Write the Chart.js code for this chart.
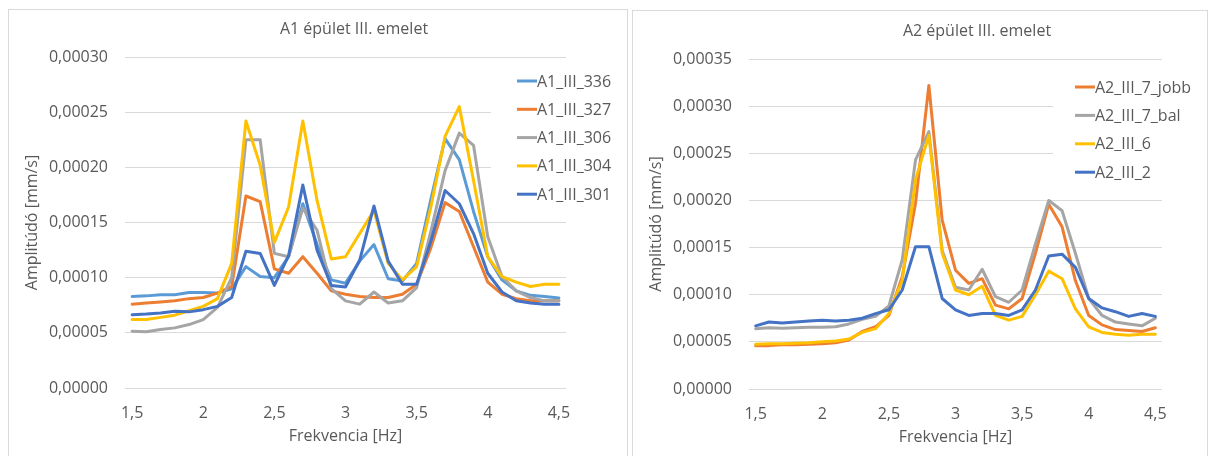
<!DOCTYPE html>
<html>
<head>
<meta charset="utf-8">
<script src="https://cdn.jsdelivr.net/npm/chart.js@4.4.1/dist/chart.umd.min.js"></script>
<style>
  html, body { margin: 0; padding: 0; background: #fff; }
  body { width: 1208px; height: 456px; overflow: hidden; position: relative; }
  .box { position: absolute; border: 1px solid #d9d9d9; box-sizing: border-box; background: #fff; }
  #boxA1 { left: 8px; top: 9px; width: 620px; height: 460px; }
  #boxA2 { left: 632px; top: 10px; width: 576px; height: 460px; }
  .box canvas { display: block; }
</style>
</head>
<body>
<div class="box" id="boxA1"><canvas id="chartA1" width="618" height="458"></canvas></div>
<div class="box" id="boxA2"><canvas id="chartA2" width="574" height="458"></canvas></div>

<script>
// ===== DATA =====
const freqs = [1.5, 1.6, 1.7, 1.8, 1.9, 2.0, 2.1, 2.2, 2.3, 2.4, 2.5, 2.6, 2.7, 2.8, 2.9, 3.0,
               3.1, 3.2, 3.3, 3.4, 3.5, 3.6, 3.7, 3.8, 3.9, 4.0, 4.1, 4.2, 4.3, 4.4, 4.5];
const xTicks = [1.5, 2, 2.5, 3, 3.5, 4, 4.5];
const yTicksA1 = [0, 0.00005, 0.0001, 0.00015, 0.0002, 0.00025, 0.0003];
const yTicksA2 = [0, 0.00005, 0.0001, 0.00015, 0.0002, 0.00025, 0.0003, 0.00035];

// A1 épület III. emelet
const a1Labels = ["A1_III_336", "A1_III_327", "A1_III_306", "A1_III_304", "A1_III_301"];
const a1_336 = [8.3e-5, 8.35e-5, 8.45e-5, 8.45e-5, 8.65e-5, 8.65e-5, 8.6e-5, 9.0e-5, 11.0e-5, 10.1e-5, 10.0e-5,
                11.9e-5, 16.7e-5, 13.0e-5, 9.8e-5, 9.5e-5, 11.5e-5, 13.0e-5, 9.9e-5, 9.7e-5, 11.3e-5,
                17.1e-5, 22.6e-5, 20.7e-5, 16.0e-5, 11.9e-5, 9.8e-5, 8.8e-5, 8.4e-5, 8.3e-5, 8.15e-5];
const a1_327 = [7.6e-5, 7.7e-5, 7.8e-5, 7.9e-5, 8.1e-5, 8.2e-5, 8.6e-5, 9.2e-5, 17.4e-5, 16.9e-5, 10.8e-5,
                10.4e-5, 11.9e-5, 10.4e-5, 8.8e-5, 8.5e-5, 8.3e-5, 8.2e-5, 8.2e-5, 8.5e-5, 9.4e-5,
                12.7e-5, 16.8e-5, 16.0e-5, 12.8e-5, 9.6e-5, 8.5e-5, 8.1e-5, 7.9e-5, 7.9e-5, 7.9e-5];
const a1_306 = [5.15e-5, 5.1e-5, 5.3e-5, 5.45e-5, 5.75e-5, 6.2e-5, 7.3e-5, 10.0e-5, 22.5e-5, 22.5e-5, 12.2e-5,
                11.9e-5, 16.3e-5, 14.3e-5, 9.0e-5, 7.9e-5, 7.6e-5, 8.7e-5, 7.7e-5, 7.9e-5, 9.1e-5,
                14.2e-5, 19.7e-5, 23.1e-5, 22.0e-5, 13.7e-5, 10.1e-5, 8.8e-5, 8.2e-5, 7.9e-5, 7.9e-5];
const a1_304 = [6.2e-5, 6.2e-5, 6.4e-5, 6.6e-5, 7.0e-5, 7.4e-5, 8.1e-5, 11.3e-5, 24.2e-5, 20.2e-5, 13.2e-5,
                16.4e-5, 24.2e-5, 17.0e-5, 11.7e-5, 11.9e-5, 14.0e-5, 16.1e-5, 11.3e-5, 9.8e-5, 11.0e-5,
                16.4e-5, 22.8e-5, 25.5e-5, 18.8e-5, 11.9e-5, 10.1e-5, 9.6e-5, 9.2e-5, 9.4e-5, 9.4e-5];
const a1_301 = [6.65e-5, 6.7e-5, 6.8e-5, 6.95e-5, 6.9e-5, 7.1e-5, 7.4e-5, 8.2e-5, 12.4e-5, 12.2e-5, 9.3e-5,
                12.0e-5, 18.4e-5, 12.5e-5, 9.3e-5, 9.15e-5, 11.6e-5, 16.5e-5, 11.5e-5, 9.4e-5, 9.4e-5,
                13.3e-5, 17.9e-5, 16.7e-5, 14.0e-5, 10.4e-5, 8.7e-5, 7.9e-5, 7.7e-5, 7.6e-5, 7.6e-5];

// A2 épület III. emelet
const a2Labels = ["A2_III_7_jobb", "A2_III_7_bal", "A2_III_6", "A2_III_2"];
const a2_7jobb = [4.6e-5, 4.6e-5, 4.7e-5, 4.7e-5, 4.75e-5, 4.8e-5, 4.9e-5, 5.2e-5, 6.1e-5, 6.6e-5, 7.8e-5,
                  11.9e-5, 19.7e-5, 32.2e-5, 17.9e-5, 12.6e-5, 11.2e-5, 11.7e-5, 8.9e-5, 8.5e-5, 9.6e-5,
                  14.4e-5, 19.6e-5, 17.2e-5, 11.5e-5, 7.8e-5, 6.8e-5, 6.3e-5, 6.2e-5, 6.1e-5, 6.5e-5];
const a2_7bal = [6.4e-5, 6.5e-5, 6.45e-5, 6.5e-5, 6.55e-5, 6.55e-5, 6.6e-5, 6.9e-5, 7.4e-5, 7.7e-5, 8.8e-5,
                 13.7e-5, 24.3e-5, 27.3e-5, 14.7e-5, 10.8e-5, 10.5e-5, 12.7e-5, 9.8e-5, 9.2e-5, 10.5e-5,
                 15.4e-5, 20.0e-5, 18.9e-5, 14.4e-5, 9.6e-5, 7.8e-5, 7.1e-5, 6.9e-5, 6.7e-5, 7.5e-5];
const a2_6 = [4.75e-5, 4.8e-5, 4.8e-5, 4.85e-5, 4.9e-5, 5.0e-5, 5.1e-5, 5.3e-5, 6.0e-5, 6.4e-5, 8.0e-5,
              11.5e-5, 22.2e-5, 26.9e-5, 14.4e-5, 10.5e-5, 10.0e-5, 10.9e-5, 7.8e-5, 7.3e-5, 7.7e-5,
              10.0e-5, 12.5e-5, 11.7e-5, 8.5e-5, 6.6e-5, 6.0e-5, 5.8e-5, 5.7e-5, 5.8e-5, 5.8e-5];
const a2_2 = [6.7e-5, 7.1e-5, 7.0e-5, 7.1e-5, 7.2e-5, 7.3e-5, 7.2e-5, 7.3e-5, 7.5e-5, 8.0e-5, 8.4e-5,
              10.5e-5, 15.1e-5, 15.1e-5, 9.6e-5, 8.4e-5, 7.8e-5, 8.0e-5, 8.0e-5, 7.8e-5, 8.4e-5,
              10.5e-5, 14.1e-5, 14.3e-5, 12.9e-5, 9.6e-5, 8.6e-5, 8.2e-5, 7.7e-5, 8.0e-5, 7.7e-5];

// ===== STYLE =====
const FONT = "'Open Sans', sans-serif";
const TEXT = "#595959";
const GRID = "#d9d9d9";
Chart.defaults.font.family = FONT;
Chart.defaults.color = TEXT;

const comma = (v) => String(v).replace(".", ",");

// title + legend drawn by hand, legend box covers the gridlines like in Excel
const decor = {
  id: "decor",
  beforeDatasetsDraw(chart, args, o) {
    const ctx = chart.ctx;
    ctx.save();
    ctx.fillStyle = "#fff";
    ctx.fillRect(o.box[0], o.box[1], o.box[2], o.box[3]);
    ctx.restore();
  },
  afterDraw(chart, args, o) {
    const ctx = chart.ctx;
    ctx.save();
    ctx.fillStyle = TEXT;
    ctx.font = "16px " + FONT;
    ctx.textAlign = "center";
    ctx.textBaseline = "middle";
    ctx.fillText(o.title, o.titleX, o.titleY);

    ctx.textAlign = "left";
    chart.data.datasets.forEach((ds, i) => {
      const y = o.legendY + i * o.legendStep;
      ctx.strokeStyle = ds.borderColor;
      ctx.lineWidth = 3;
      ctx.beginPath();
      ctx.moveTo(o.legendX, y);
      ctx.lineTo(o.legendX + 20, y);
      ctx.stroke();
      ctx.fillStyle = TEXT;
      ctx.fillText(ds.label, o.legendX + 20, y + 1);
    });
    ctx.restore();
  }
};

function makeSeries(labels, series, colors) {
  return labels.map((lab, i) => ({
    label: lab,
    data: series[i].map((v, j) => ({ x: freqs[j], y: v })),
    borderColor: colors[i],
    backgroundColor: colors[i],
    borderWidth: 3,
    borderJoinStyle: "round",
    borderCapStyle: "round",
    pointRadius: 0,
    tension: 0,
    order: -i,
  }));
}

function makeOptions(yMax, yTicks, pad, decorOpts) {
  return {
    responsive: false,
    animation: false,
    layout: { padding: pad },
    plugins: {
      legend: { display: false },
      tooltip: { enabled: false },
      decor: decorOpts,
    },
    scales: {
      x: {
        type: "linear",
        min: 1.45,
        max: 4.55,
        afterBuildTicks: (s) => { s.ticks = xTicks.map(v => ({ value: v })); },
        afterFit: (s) => { s.height = 80; },
        ticks: {
          padding: 16,
          font: { size: 16 },
          color: TEXT,
          callback: (v) => comma(v),
        },
        grid: { display: false, drawTicks: false },
        border: { display: false },
        title: {
          display: true,
          text: "Frekvencia [Hz]",
          font: { size: 16 },
          color: TEXT,
          padding: { top: 0, bottom: 22 },
        },
      },
      y: {
        min: 0,
        max: yMax,
        afterBuildTicks: (s) => { s.ticks = yTicks.map(v => ({ value: v })); },
        afterFit: (s) => { s.width = 116; },
        ticks: {
          padding: 17,
          font: { size: 16 },
          color: TEXT,
          callback: (v) => v.toFixed(5).replace(".", ","),
        },
        grid: { color: GRID, lineWidth: 1, drawTicks: false },
        border: { display: false },
        title: {
          display: true,
          text: "Amplitúdó [mm/s]",
          font: { size: 16 },
          color: TEXT,
          padding: { top: 14, bottom: 0 },
        },
      },
    },
  };
}

// ===== A1 CHART =====
new Chart(document.getElementById("chartA1"), {
  type: "line",
  data: {
    datasets: makeSeries(a1Labels, [a1_336, a1_327, a1_306, a1_304, a1_301],
      ["#5B9BD5", "#ED7D31", "#A5A5A5", "#FFC000", "#4472C4"]),
  },
  options: makeOptions(0.0003, yTicksA1, { top: 47, right: 61, bottom: 0, left: 0 }, {
    title: "A1 épület III. emelet", titleX: 345, titleY: 19,
    legendX: 508, legendY: 71, legendStep: 28.3,
    box: [482, 60, 136, 140],
  }),
  plugins: [decor],
});

// ===== A2 CHART =====
new Chart(document.getElementById("chartA2"), {
  type: "line",
  data: {
    datasets: makeSeries(a2Labels, [a2_7jobb, a2_7bal, a2_6, a2_2],
      ["#ED7D31", "#A5A5A5", "#FFC000", "#4472C4"]),
  },
  options: makeOptions(0.00035, yTicksA2, { top: 48, right: 45, bottom: 0, left: 0 }, {
    title: "A2 épület III. emelet", titleX: 344, titleY: 20,
    legendX: 442, legendY: 76, legendStep: 28.4,
    box: [420, 61, 154, 120],
  }),
  plugins: [decor],
});
</script>
</body>
</html>
